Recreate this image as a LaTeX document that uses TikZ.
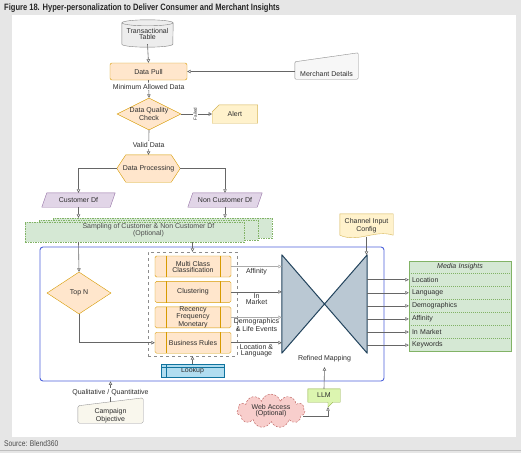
\documentclass[tikz,border=0pt]{standalone}
\usepackage{fontspec}
\setmainfont{Liberation Sans}
\newfontfamily\narrowfont[FakeStretch=0.82]{Liberation Sans}
\usepackage{tikz}
\usetikzlibrary{arrows.meta,positioning,calc,shapes.geometric,shapes.symbols,backgrounds}

\definecolor{pageGray}{HTML}{E6E6E6}
\definecolor{inkGray}{HTML}{2E2E2E}
\definecolor{lineGray}{HTML}{666666}
\definecolor{orgFill}{HTML}{FFE6CC}
\definecolor{orgLine}{HTML}{D79B00}
\definecolor{ylwFill}{HTML}{FFF2CC}
\definecolor{ylwLine}{HTML}{D6B656}
\definecolor{purFill}{HTML}{E1D5E7}
\definecolor{purLine}{HTML}{9673A6}
\definecolor{grnFill}{HTML}{D5E8D4}
\definecolor{grnLine}{HTML}{82B366}
\definecolor{bluFill}{HTML}{B1DDF0}
\definecolor{bluLine}{HTML}{10739E}
\definecolor{slateFill}{HTML}{BAC8D3}
\definecolor{slateLine}{HTML}{23445D}
\definecolor{pnkFill}{HTML}{F8CECC}
\definecolor{pnkLine}{HTML}{B85450}
\definecolor{limeFill}{HTML}{DCF5B0}
\definecolor{limeLine}{HTML}{8DB03C}
\definecolor{campFill}{HTML}{F9F7ED}
\definecolor{frameBlue}{HTML}{4D63DB}

\begin{document}
\begin{tikzpicture}[
    x=1pt, y=-1pt,
    >={Triangle[open,length=3.5pt,width=3.5pt]},
    txt/.style={font=\fontsize{7}{6}\selectfont, text=inkGray, align=center, inner sep=0pt},
    box/.style={txt, draw=#1, rounded corners=2pt},
    proc/.style={txt, draw=orgLine, fill=orgFill, rounded corners=1.5pt,
                 minimum width=76pt, minimum height=21pt},
    dmd/.style={txt, diamond, aspect=2, draw=orgLine, fill=orgFill},
    lbl/.style={txt, fill=white, inner sep=1pt},
    side/.style={txt, font=\fontsize{7}{6}\selectfont},
    arr/.style={->, draw=lineGray, line width=0.6pt},
    sheet/.style={draw=grnLine, fill=grnFill, dash pattern=on 1.5pt off 1pt},
    row/.style={txt, text width=96pt, align=left, minimum height=12.67pt, inner xsep=3pt},
  ]
  \useasboundingbox (0,0) rectangle (521,453);
  \begin{scope}[on background layer]
    \fill[pageGray] (0,0) rectangle (521,453);
    \fill[white] (12,15) rectangle (516,437);
    \draw[black!25, line width=0.8pt] (0,450) -- (521,450);
  \end{scope}

  % heading and source
  \node[anchor=west, inner sep=0pt, text=black!85,
        font=\narrowfont\bfseries\fontsize{9.2}{9.2}\selectfont] (title) at (4,8)
    {Figure 18. Hyper-personalization to Deliver Consumer and Merchant Insights};
  \node[anchor=west, inner sep=0pt, text=black!70,
        font=\narrowfont\fontsize{8.2}{8.2}\selectfont] (source) at (4,444)
    {Source: Blend360};

  % data intake
  \node[txt, minimum width=51pt, minimum height=21pt] (tbl) at (147.5,33.5) {Transactional\\Table};
  \node[box=orgLine, fill=orgFill, minimum width=77pt, minimum height=17pt] (pull) at (148.5,71.5) {Data Pull};
  \node[txt, minimum width=63pt, minimum height=26pt] (merch) at (326.5,66) {};
  \node[txt] (merchTxt) at ($(merch.south)+(0,-5.5)$) {Merchant Details};
  \node[dmd, minimum width=64pt, minimum height=32pt] (dqc) at (149,114) {Data Quality\\Check};
  \node[txt, minimum width=45pt, minimum height=18pt, right=31pt of dqc] (alert) {Alert};
  \node[txt, minimum width=63pt, minimum height=27pt] (dproc) at (148.5,168.5) {Data Processing};
  \node[txt, minimum width=73pt, minimum height=14pt] (cdf) at (78.5,200) {Customer Df};
  \node[txt, minimum width=74pt, minimum height=14pt] (ncdf) at (225,200) {Non Customer Df};
  \node[txt, minimum width=247pt, minimum height=24pt, text=inkGray!85] (samp) at (148.5,230)
    {Sampling of Customer \& Non Customer Df\\(Optional)};

  \begin{scope}[on background layer]
    \draw[draw=black!50, fill=black!7] (tbl.north west) -- (tbl.south west)
      arc[start angle=180, end angle=360, x radius=25.5pt, y radius=3pt] -- (tbl.north east);
    \draw[draw=black!50, fill=black!7] (tbl.north) ellipse[x radius=25.5pt, y radius=3pt];
    \draw[draw=black!45, fill=black!3, rounded corners=1pt] (merch.south west)
      -- ($(merch.north west)+(0,9)$) -- (merch.north east) -- (merch.south east) -- cycle;
    \draw[draw=ylwLine, fill=ylwFill] (alert.south west) -- ($(alert.north west)+(0,7)$)
      -- ($(alert.north west)+(7,0)$) -- (alert.north east) -- (alert.south east) -- cycle;
    \draw[draw=orgLine, fill=orgFill] (dproc.west) -- ($(dproc.north west)+(9,0)$)
      -- ($(dproc.north east)+(-9,0)$) -- (dproc.east) -- ($(dproc.south east)+(-9,0)$)
      -- ($(dproc.south west)+(9,0)$) -- cycle;
    \foreach \n in {cdf,ncdf}
      \draw[draw=purLine, fill=purFill] (\n.south west) -- ($(\n.north west)+(5,0)$)
        -- (\n.north east) -- ($(\n.south east)+(-5,0)$) -- cycle;
    \foreach \k in {2,1,0}
      \draw[sheet] ($(samp.south west)+(14*\k,-2*\k)$) rectangle ($(samp.north east)+(14*\k-28,4-2*\k)$);
  \end{scope}

  \draw[arr] (tbl.south) -- (pull.north);
  \draw[arr] (merch.west |- pull.east) -- (pull.east);
  \draw[arr] (pull.south) -- node[lbl, pos=0.38] (minTxt) {Minimum Allowed Data} (dqc.north);
  \draw[arr] (dqc.east) -- node[lbl, rotate=90, font=\fontsize{4.5}{4.5}\selectfont, pos=0.45] (failTxt) {Failed} (alert.west);
  \draw[arr] (dqc.south) -- node[lbl, pos=0.6] (validTxt) {Valid Data} (dproc.north);
  \draw[arr] (dproc.west) -| (cdf.north);
  \draw[arr] (dproc.east) -| (ncdf.north);
  \draw[arr] (cdf.south) -- (cdf.south |- samp.north);
  \draw[arr] (ncdf.south) -- (ncdf.south |- samp.north);

  % modelling block
  \node[draw=frameBlue, rounded corners=3pt, line width=0.9pt, minimum width=344pt,
        minimum height=134pt, inner sep=0pt] (frame) at (212,314) {};
  \node[dmd, minimum width=64pt, minimum height=42pt] (topn) at (79,293) {Top N};
  \node[draw=black!45, dashed, minimum width=89pt, minimum height=104pt, inner sep=0pt] (grp) at (192.5,304) {};
  \node[proc] (mcc) at (193,266.5) {Multi Class\\Classification};
  \node[proc, below=4pt of mcc] (clus) {Clustering};
  \node[proc, below=4pt of clus] (rfm) {Recency\\Frequency\\Monetary};
  \node[proc, below=4pt of rfm] (brule) {Business Rules};
  \foreach \n in {mcc,clus,rfm,brule} {
    \draw[orgLine] ($(\n.north west)+(11,0)$) -- ($(\n.south west)+(11,0)$);
    \draw[orgLine] ($(\n.north east)+(-11,0)$) -- ($(\n.south east)+(-11,0)$);
  }
  \node[txt, draw=bluLine, fill=bluFill, minimum width=63pt, minimum height=13pt, below=8pt of grp] (look) {Lookup};
  \draw[bluLine] ($(look.north west)+(5,0)$) -- ($(look.south west)+(5,0)$);
  \draw[bluLine] ($(look.north west)+(0,3)$) -- ($(look.north east)+(0,3)$);

  \node[txt, minimum width=85pt, minimum height=98pt] (bow) at (324.5,304) {};
  \node[txt, below=2pt of bow] (refmap) {Refined Mapping};
  \node[txt, minimum width=53pt, minimum height=23pt] (chan) at (366.5,225.5) {Channel Input\\Config};

  \begin{scope}[on background layer]
    \draw[draw=slateLine, fill=slateFill, line width=1pt, line join=round]
      (bow.north west) -- (bow.south east) -- (bow.north east) -- (bow.south west) -- cycle;
    \draw[draw=ylwLine, fill=ylwFill] (chan.north west) -- (chan.north east)
      -- ($(chan.south east)+(0,-2)$)
      .. controls ($(chan.south east)+(-18,-8)$) and ($(chan.south west)+(18,6)$) ..
      ($(chan.south west)+(0,-2)$) -- cycle;
  \end{scope}

  \draw[arr] (cdf.south |- samp.south) -- (topn.north);
  \draw[arr] (grp.north |- samp.south) -- (grp.north);
  \draw[arr] (topn.south) |- (brule.west);
  \draw[arr] (look.north) -- (grp.south);
  \draw[arr, draw=lineGray!55] (mcc.east) -- (mcc.east -| bow.west)
    node[side, midway, below=1.5pt] (affTxt) {Affinity};
  \draw[arr] (clus.east) -- (clus.east -| bow.west)
    node[side, midway, below=1pt] (mktTxt) {In\\Market};
  \draw[arr, draw=lineGray!55] (rfm.east) -- (rfm.east -| bow.west)
    node[side, midway, below=1pt] (demoTxt) {Demographics\\\& Life Events};
  \draw[arr] (brule.east) -- (brule.east -| bow.west)
    node[side, midway, below=1pt] (locTxt) {Location \&\\Language};
  \draw[arr] (chan.south) -- (chan.south |- bow.north);

  % media insights list
  \node[row, align=center, font=\fontsize{7}{6}\selectfont\itshape, minimum height=12pt] (m0) at (460,267) {Media Insights};
  \foreach \lab [count=\i, remember=\i as \j (initially 0)] in {Location,Language,Demographics,Affinity,In Market,Keywords} {
    \node[row, below=0pt of m\j] (m\i) {\lab};
    \draw[arr] (m\i.west -| bow.east) -- (m\i.west);
  }
  \begin{scope}[on background layer]
    \draw[draw=grnLine, fill=grnFill] (m0.north west) rectangle (m6.south east);
    \foreach \i in {1,...,6}
      \draw[grnLine, dash pattern=on 1pt off 1pt] (m\i.north west) -- (m\i.north east);
  \end{scope}

  % inputs below the block
  \node[txt, minimum width=65pt, minimum height=25pt] (camp) at (110.5,410.5) {};
  \node[txt] (campTxt) at ($(camp.center)+(0,5)$) {Campaign\\Objective};
  \node[txt, cloud, cloud puffs=11, aspect=2.4, draw=pnkLine, fill=pnkFill,
        dash pattern=on 2pt off 1.5pt, minimum width=68pt, minimum height=28pt] (web) at (271,411)
    {Web Access\\(Optional)};
  \node[txt, minimum width=32pt, minimum height=13pt] (llm) at (324,395.5) {LLM};
  \coordinate (llmTip) at ($(llm.south)+(4,5)$);
  \begin{scope}[on background layer]
    \draw[draw=black!40, fill=campFill, rounded corners=1.5pt] (camp.south west)
      -- ($(camp.north west)+(0,8)$) -- (camp.north east) -- (camp.south east) -- cycle;
    \draw[draw=limeLine, fill=limeFill] (llm.north west) -- (llm.north east) -- (llm.south east)
      -- ($(llm.south)+(9,0)$) -- (llmTip) -- ($(llm.south)+(4,0)$) -- (llm.south west) -- cycle;
  \end{scope}
  \draw[arr] ($(camp.north)+(0,4)$) -- node[lbl, pos=0.45] (qualTxt) {Qualitative / Quantitative} (camp.north |- frame.south);
  \draw[arr] ($(web.east)+(-2,5)$) -| (llmTip);
  \draw[arr] (llm.north) -- ([yshift=-5pt]refmap.south);
\end{tikzpicture}
\end{document}
